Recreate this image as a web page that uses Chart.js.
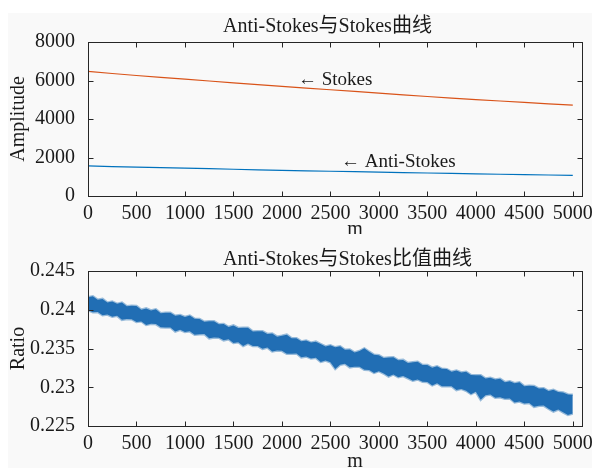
<!DOCTYPE html>
<html><head><meta charset="utf-8">
<script src="https://cdn.jsdelivr.net/npm/chart.js@4.4.1/dist/chart.umd.min.js"></script>
<style>
html,body{margin:0;padding:0;background:#fff;}
#wrap{position:relative;width:595px;height:468px;overflow:hidden;}
#bg{position:absolute;left:8px;top:13px;width:584px;height:455px;background:#f9f9f9;}
canvas{position:absolute;left:0;}
#c1{top:0;}
#c2{top:234px;}
</style></head><body>
<div id="wrap"><div id="bg"></div>
<canvas id="c1" width="595" height="234"></canvas>
<canvas id="c2" width="595" height="234"></canvas></div>
<script>
// ---------- data ----------
const distance   = [0, 500, 1000, 1500, 2000, 2500, 3000, 3500, 4000, 4500, 5000];
const stokes     = [6470, 6260, 6070, 5880, 5690, 5520, 5340, 5170, 5010, 4860, 4720];
const antiStokes = [1560, 1500, 1450, 1390, 1335, 1285, 1240, 1195, 1150, 1110, 1070];

const xTicks = [0, 500, 1000, 1500, 2000, 2500, 3000, 3500, 4000, 4500, 5000];
const xMax = 5095;
const ampTicks = [0, 2000, 4000, 6000, 8000];
const ratioTicks = [0.225, 0.23, 0.235, 0.24, 0.245];
const ratioTickLabels = ['0.225', '0.23', '0.235', '0.24', '0.245'];

const titles = ['Anti-Stokes与Stokes曲线', 'Anti-Stokes与Stokes比值曲线'];
const yLabels = ['Amplitude', 'Ratio'];
const xLabel = 'm';
const annotText = ['\u2190 Stokes', '\u2190 Anti-Stokes'];
const annotX = [2166, 2610];
const annotY = [6000, 1790];

// ratio band: upper / lower edge of the noisy trace, read every 50 m
const ratioStep = 50;
const ratioUpper = [
0.24160,0.24173,0.24130,0.24140,0.24092,0.24107,0.24076,0.24092,0.24044,0.24052,
0.24049,0.24001,0.24017,0.23991,0.24006,0.23955,0.23960,0.23960,0.23923,0.23931,
0.23906,0.23925,0.23883,0.23882,0.23844,0.23851,0.23852,0.23812,0.23815,0.23777,
0.23798,0.23765,0.23767,0.23769,0.23720,0.23723,0.23724,0.23688,0.23693,0.23653,
0.23664,0.23678,0.23631,0.23632,0.23592,0.23603,0.23576,0.23588,0.23557,0.23527,
0.23542,0.23515,0.23529,0.23484,0.23488,0.23449,0.23468,0.23502,0.23459,0.23419,
0.23414,0.23377,0.23385,0.23386,0.23348,0.23353,0.23312,0.23324,0.23329,0.23287,
0.23288,0.23253,0.23271,0.23238,0.23234,0.23199,0.23216,0.23190,0.23199,0.23157,
0.23156,0.23155,0.23113,0.23122,0.23100,0.23109,0.23066,0.23076,0.23053,0.23063,
0.23012,0.23019,0.23017,0.22984,0.22986,0.22951,0.22968,0.22938,0.22933,0.22907,
0.22902];
const ratioLower = [
0.23995,0.23967,0.23972,0.23929,0.23938,0.23910,0.23921,0.23870,0.23880,0.23878,
0.23841,0.23850,0.23803,0.23818,0.23815,0.23774,0.23772,0.23772,0.23719,0.23741,
0.23714,0.23721,0.23678,0.23685,0.23686,0.23631,0.23643,0.23640,0.23605,0.23618,
0.23571,0.23582,0.23531,0.23564,0.23533,0.23532,0.23496,0.23513,0.23462,0.23473,
0.23470,0.23433,0.23432,0.23437,0.23386,0.23398,0.23371,0.23380,0.23327,0.23344,
0.23323,0.23237,0.23289,0.23302,0.23257,0.23266,0.23264,0.23225,0.23224,0.23185,
0.23208,0.23177,0.23138,0.23165,0.23130,0.23145,0.23115,0.23084,0.23101,0.23070,
0.23067,0.23024,0.23051,0.23014,0.23013,0.23014,0.22964,0.22979,0.22954,0.22911,
0.22942,0.22839,0.22898,0.22907,0.22864,0.22871,0.22851,0.22856,0.22803,0.22816,
0.22791,0.22798,0.22747,0.22762,0.22763,0.22722,0.22686,0.22713,0.22676,0.22643,
0.22660];

// ---------- styling ----------
const FONT = '"Liberation Serif","Times New Roman",serif';
const TITLE_FONT = '20px "Liberation Serif","Noto Sans CJK SC",serif';
const TXT = '#1a1a1a';
const AX = '#262626';
const ORANGE = '#d95319';
const BLUE = '#0072bd';
const BAND = '#216eb4';
const BAND_EDGE = 'rgba(33,110,180,0.45)';

function framePlugin(cfg) {
  return {
    id: 'frame',
    afterDraw(chart) {
      const {ctx, chartArea: a, scales: {x, y}} = chart;
      ctx.save();
      ctx.strokeStyle = AX; ctx.lineWidth = 1;
      const L = Math.round(a.left) + 0.5, R = Math.round(a.right) + 0.5;
      const T = Math.round(a.top) + 0.5, B = Math.round(a.bottom) + 0.5;
      ctx.strokeRect(L, T, R - L, B - T);
      const tl = 5;
      ctx.beginPath();
      x.ticks.forEach(t => {
        const px = Math.round(x.getPixelForValue(t.value)) + 0.5;
        ctx.moveTo(px, B); ctx.lineTo(px, B - tl);
        ctx.moveTo(px, T); ctx.lineTo(px, T + tl);
      });
      y.ticks.forEach(t => {
        const py = Math.round(y.getPixelForValue(t.value)) + 0.5;
        ctx.moveTo(L, py); ctx.lineTo(L + tl, py);
        ctx.moveTo(R, py); ctx.lineTo(R - tl, py);
      });
      ctx.stroke();
      ctx.fillStyle = TXT;
      // title
      ctx.font = TITLE_FONT;
      ctx.textAlign = 'left'; ctx.textBaseline = 'alphabetic';
      ctx.fillText(cfg.title, 223, cfg.titleBase);
      // x label
      ctx.font = '20px ' + FONT;
      ctx.textAlign = 'center';
      ctx.fillText(xLabel, 355, cfg.xLabBase);
      // y label
      ctx.save();
      ctx.translate(19, (a.top + a.bottom) / 2);
      ctx.rotate(-Math.PI / 2);
      ctx.textBaseline = 'middle';
      ctx.fillText(cfg.yLabel, 0, 0);
      ctx.restore();
      // annotations
      if (cfg.annot) {
        ctx.font = '19px ' + FONT;
        ctx.textAlign = 'left'; ctx.textBaseline = 'middle';
        annotText.forEach((s, i) => {
          ctx.fillText(s, x.getPixelForValue(annotX[i]), y.getPixelForValue(annotY[i]));
        });
      }
      ctx.restore();
    }
  };
}

function scalesCfg(yMin, yMax, yTickVals, yFmt, xh) {
  return {
    x: {
      type: 'linear', min: 0, max: xMax,
      grid: {display: false}, border: {display: false},
      afterBuildTicks: s => { s.ticks = xTicks.map(v => ({value: v})); },
      afterFit: s => { s.height = xh; },
      ticks: {autoSkip: false, maxRotation: 0, padding: -2, color: TXT,
              font: {family: FONT, size: 20}, callback: v => String(v)}
    },
    y: {
      type: 'linear', min: yMin, max: yMax,
      grid: {display: false}, border: {display: false},
      afterBuildTicks: s => { s.ticks = yTickVals.map(v => ({value: v})); },
      afterFit: s => { s.width = 88; },
      ticks: {autoSkip: false, padding: 5, color: TXT,
              font: {family: FONT, size: 20}, callback: yFmt}
    }
  };
}

Chart.defaults.animation = false;

new Chart(document.getElementById('c1'), {
  type: 'line',
  data: {
    datasets: [
      {data: distance.map((d, i) => ({x: d, y: stokes[i]})), borderColor: ORANGE,
       borderWidth: 1.2, pointRadius: 0, tension: 0.3, fill: false},
      {data: distance.map((d, i) => ({x: d, y: antiStokes[i]})), borderColor: BLUE,
       borderWidth: 1.2, pointRadius: 0, tension: 0.3, fill: false}
    ]
  },
  options: {
    responsive: false,
    layout: {padding: {left: 0, right: 13, top: 42, bottom: 0}},
    plugins: {legend: {display: false}, tooltip: {enabled: false}},
    scales: scalesCfg(0, 8000, ampTicks, v => String(v), 38)
  },
  plugins: [framePlugin({title: titles[0], titleBase: 31.5, xLabBase: 235, yLabel: yLabels[0], annot: true})]
});

new Chart(document.getElementById('c2'), {
  type: 'line',
  data: {
    datasets: [
      {data: ratioUpper.map((v, i) => ({x: i * ratioStep, y: v})), borderColor: BAND_EDGE,
       borderWidth: 2.5, pointRadius: 0, tension: 0, fill: false},
      {data: ratioLower.map((v, i) => ({x: i * ratioStep, y: v})), borderColor: BAND_EDGE,
       borderWidth: 2.5, pointRadius: 0, tension: 0, fill: '-1', backgroundColor: BAND}
    ]
  },
  options: {
    responsive: false,
    layout: {padding: {left: 0, right: 13, top: 37, bottom: 0}},
    plugins: {legend: {display: false}, tooltip: {enabled: false}},
    scales: scalesCfg(0.225, 0.245, ratioTicks,
      (v, i) => ratioTickLabels[ratioTicks.findIndex(t => Math.abs(t - v) < 1e-9)], 42)
  },
  plugins: [framePlugin({title: titles[1], titleBase: 30.5, xLabBase: 233, yLabel: yLabels[1], annot: false})]
});
</script>
</body></html>
